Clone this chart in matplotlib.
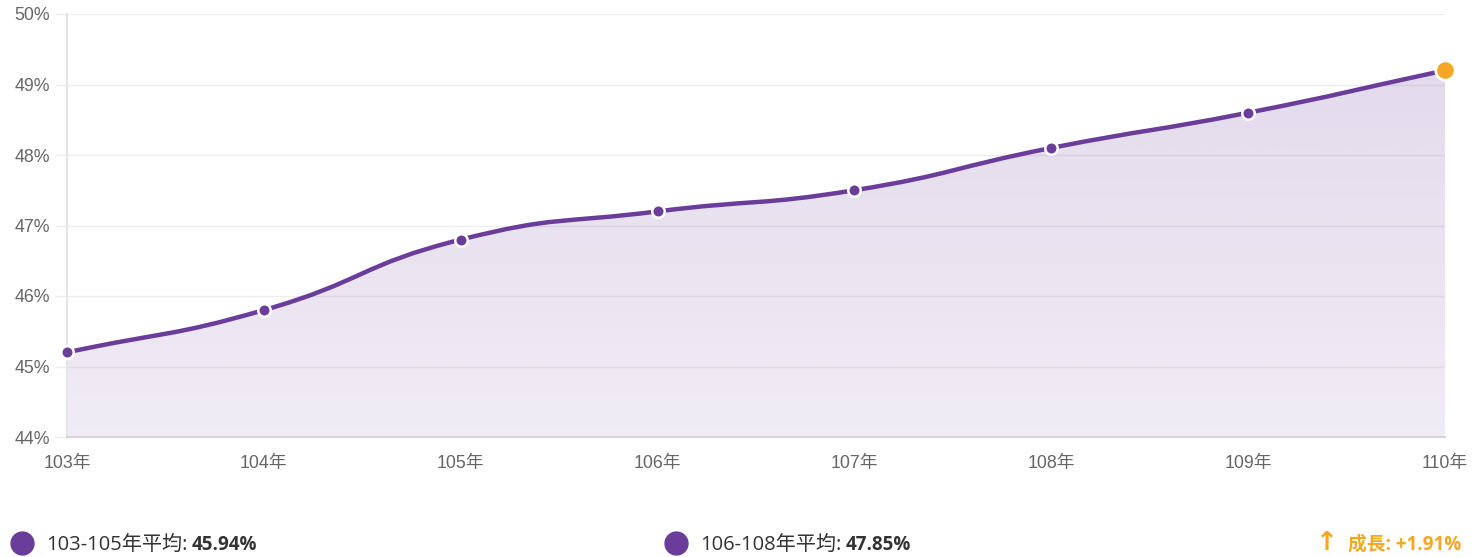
import numpy as np
import matplotlib.pyplot as plt
from matplotlib.path import Path
from matplotlib.patches import PathPatch
from matplotlib.lines import Line2D
import warnings
warnings.filterwarnings(action='ignore')

plt.rcParams['font.family'] = ['Liberation Sans', 'Noto Sans CJK TC', 'DejaVu Sans']

# 数据
years = ['103年', '104年', '105年', '106年', '107年', '108年', '109年', '110年']
ratio = [45.2, 45.8, 46.8, 47.2, 47.5, 48.1, 48.6, 49.2]
yticks = [44, 45, 46, 47, 48, 49, 50]
avg_labels = ['103-105年平均:', '106-108年平均:']
avg_values = ['45.94%', '47.85%']
growth_text = '成長: +1.91%'

purple = '#6a3d9a'
orange = '#f5a623'

fig = plt.figure(figsize=(14.77, 5.57), dpi=100)
ax = fig.add_axes([67 / 1477, 1 - 437 / 557, 1378 / 1477, 423 / 557])
x = np.arange(len(years))
y = np.array(ratio)
ax.set_xlim(0, len(years) - 1)
ax.set_ylim(44, 50)

# 平滑曲线 (类似 echarts smooth=0.5 的贝塞尔控制点)
pts = np.column_stack([x, y]).astype(float)
disp = ax.transData.transform(pts)
smooth = 0.5
n = len(pts)
cp_out, cp_in = [], []
for i in range(n):
    prev = pts[i - 1] if i > 0 else pts[i]
    nxt = pts[i + 1] if i < n - 1 else pts[i]
    dprev = disp[i - 1] if i > 0 else disp[i]
    dnxt = disp[i + 1] if i < n - 1 else disp[i]
    l0 = np.hypot(*(disp[i] - dprev))
    l1 = np.hypot(*(dnxt - disp[i]))
    r = l1 / (l0 + l1) if l0 + l1 > 0 else 0.5
    v = nxt - prev
    cp_out.append(pts[i] + v * smooth * r)
    cp_in.append(pts[i] - v * smooth * (1 - r))
verts = [pts[0]]
codes = [Path.MOVETO]
for i in range(n - 1):
    verts += [cp_out[i], cp_in[i + 1], pts[i + 1]]
    codes += [Path.CURVE4] * 3
line_path = Path(verts, codes)

# 渐变填充
fill_verts = verts + [(x[-1], 44), (x[0], 44), pts[0]]
fill_codes = codes + [Path.LINETO, Path.LINETO, Path.CLOSEPOLY]
fill_patch = PathPatch(Path(fill_verts, fill_codes), facecolor='none', edgecolor='none')
ax.add_patch(fill_patch)
grad = np.zeros((256, 1, 4))
rgb = np.array([0x6a, 0x3d, 0x9a]) / 255
grad[:, 0, :3] = rgb
grad[:, 0, 3] = np.linspace(0.2, 0.1, 256)
im = ax.imshow(grad, aspect='auto', extent=[x[0], x[-1], 44, 50], origin='upper', zorder=1)
im.set_clip_path(fill_patch)

ax.add_patch(PathPatch(line_path, facecolor='none', edgecolor=purple, lw=3.2, zorder=3,
                       capstyle='round', joinstyle='round'))
ax.plot(x[:-1], y[:-1], 'o', ms=9, mfc=purple, mec='white', mew=1.8, zorder=4, clip_on=False)
ax.plot(x[-1:], y[-1:], 'o', ms=14, mfc=orange, mec='white', mew=2, zorder=5, clip_on=False)

# 坐标轴
ax.set_yticks(yticks)
ax.set_yticklabels([f'{t}%' for t in yticks])
ax.set_xticks(x)
ax.set_xticklabels(years)
ax.tick_params(axis='y', length=9, color='#eeeeee', width=1, pad=3.5, labelsize=12.8, labelcolor='#666666')
ax.tick_params(axis='x', length=0, pad=13, labelsize=12.8, labelcolor='#666666')
ax.grid(axis='y', color='#eeeeee', lw=1)
ax.set_axisbelow(True)
for s in ['top', 'right']:
    ax.spines[s].set_visible(False)
ax.spines['left'].set_color('#e6e6e6')
ax.spines['left'].set_linewidth(1.5)
ax.spines['bottom'].set_color('#d6d4dc')
ax.spines['bottom'].set_linewidth(1.5)

# 底部说明
fig.canvas.draw()
renderer = fig.canvas.get_renderer()
ty = 1 - 545 / 557
for cx, lab, val in zip([22, 676], avg_labels, avg_values):
    fig.add_artist(Line2D([cx / 1477], [1 - 543 / 557], marker='o', ms=16.5, color=purple,
                          transform=fig.transFigure))
    t1 = fig.text((cx + 24) / 1477, ty, lab, fontsize=14.5, color='#333333', va='center',
                  family=['Open Sans', 'Noto Sans CJK TC'])
    bb = t1.get_window_extent(renderer)
    fig.text(bb.x1 / 1477 + 4 / 1477, ty, val, fontsize=13.5, color='#333333', va='center',
             fontweight='bold', family=['Open Sans', 'Noto Sans CJK TC'])
fig.text(1327 / 1477, 1 - 543 / 557, '↑', fontsize=19, color=orange, va='center', ha='center',
         fontweight='bold', family=['DejaVu Sans'])
fig.text(1348 / 1477, ty, growth_text, fontsize=13.5, color=orange, va='center',
         fontweight='bold', family=['Open Sans', 'Noto Sans CJK TC'])

plt.savefig('out.png', dpi=100)
